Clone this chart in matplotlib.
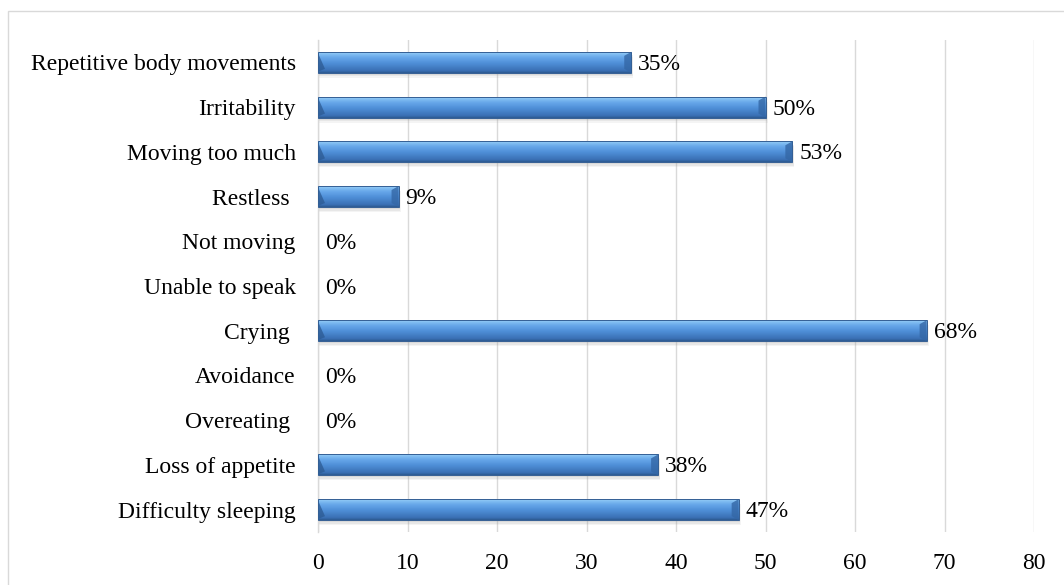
import numpy as np
import matplotlib
matplotlib.use("Agg")
import matplotlib.pyplot as plt
from matplotlib.colors import LinearSegmentedColormap
from matplotlib.patches import Rectangle, Polygon

# Symptoms listed bottom to top, with the share of respondents (%)
symptoms = [
    "Difficulty sleeping",
    "Loss of appetite",
    "Overeating ",
    "Avoidance",
    "Crying ",
    "Unable to speak",
    "Not moving",
    "Restless ",
    "Moving too much",
    "Irritability",
    "Repetitive body movements",
]
percent = [47, 38, 0, 0, 68, 0, 0, 9, 53, 50, 35]
x_ticks = [0, 10, 20, 30, 40, 50, 60, 70, 80]

plt.rcParams["font.family"] = ["Liberation Serif", "DejaVu Serif"]
FS = 17

W, H = 1064, 585
fig = plt.figure(figsize=(W / 100, H / 100), dpi=100)
ax = fig.add_axes([318 / W, 1 - 532 / H, (1034 - 318) / W, (532 - 40) / H])

# outer chart frame
fig.patches.append(Rectangle((8 / W, -0.05), 1.2, 1 - 11 / H + 0.05,
                             transform=fig.transFigure, fill=False,
                             edgecolor="#d9d9d9", linewidth=1.0, zorder=0))

ypos = np.arange(len(symptoms))
bar_h = 0.47
bars = ax.barh(ypos, percent, height=bar_h, color="none", edgecolor="none", zorder=3)

# vertical shading for the bevelled bar look
shade = LinearSegmentedColormap.from_list(
    "bevel",
    [(0.0, "#2d5a90"), (0.1, "#3a70b4"), (0.45, "#4f8fd8"),
     (0.72, "#68a8ea"), (0.88, "#84c0f3"), (1.0, "#b3daf8")])
grad = np.linspace(0, 1, 64).reshape(-1, 1)

px_x = 80 / (1034 - 318)          # data units per pixel, x
px_y = 11 / (532 - 40)            # data units per pixel, y
bev_x = 7 * px_x
bev_y = 4 * px_y

for rect, val in zip(bars, percent):
    if val <= 0:
        continue
    x0, y0 = rect.get_x(), rect.get_y()
    w, h = rect.get_width(), rect.get_height()
    # soft drop shadow
    for k, a in [(5, 0.10), (3.5, 0.14), (2, 0.18)]:
        ax.add_patch(Rectangle((x0 + 0.5 * px_x, y0 - k * px_y), w + k * 0.3 * px_x, h,
                               facecolor="#9a9a9a", edgecolor="none", alpha=a, zorder=2))
    im = ax.imshow(grad, cmap=shade, aspect="auto", origin="lower",
                   extent=[x0, x0 + w, y0, y0 + h], zorder=3, interpolation="bilinear")
    im.set_clip_path(rect)
    # right end facet
    ax.add_patch(Polygon([(x0 + w, y0), (x0 + w, y0 + h),
                          (x0 + w - bev_x, y0 + h - bev_y), (x0 + w - bev_x, y0 + bev_y)],
                         closed=True, facecolor="#3467a6", edgecolor="none",
                         alpha=0.8, zorder=4))
    # left end facet
    ax.add_patch(Polygon([(x0, y0 + bev_y * 0.3), (x0, y0 + h - bev_y * 0.3),
                          (x0 + bev_x, y0 + bev_y)],
                         closed=True, facecolor="#2c5a92", edgecolor="none",
                         alpha=0.75, zorder=4))
    # thin outline
    ax.add_patch(Rectangle((x0, y0), w, h, fill=False, edgecolor="#345f94",
                           linewidth=0.7, zorder=5))

for y, val in zip(ypos, percent):
    ax.annotate(f"{val}%", xy=(val, y), xytext=(5, -1.5), textcoords="offset points",
                ha="left", va="center", fontsize=FS, color="#000000", zorder=6)

ax.set_xlim(0, 80)
ax.set_ylim(-0.5, 10.5)
ax.set_xticks(x_ticks)
ax.set_xticklabels([str(t) for t in x_ticks])
ax.set_yticks(ypos)
ax.set_yticklabels(symptoms)
ax.tick_params(axis="both", length=0, labelsize=FS, colors="#000000")
ax.tick_params(axis="y", pad=16)
ax.tick_params(axis="x", pad=15)
ax.grid(axis="x", color="#d9d9d9", linewidth=1.0, zorder=0)
ax.set_axisbelow(True)
for side in ["top", "right", "bottom"]:
    ax.spines[side].set_visible(False)
ax.spines["left"].set_color("#d9d9d9")
ax.spines["left"].set_linewidth(1.0)

fig.savefig("out.png", dpi=100)
